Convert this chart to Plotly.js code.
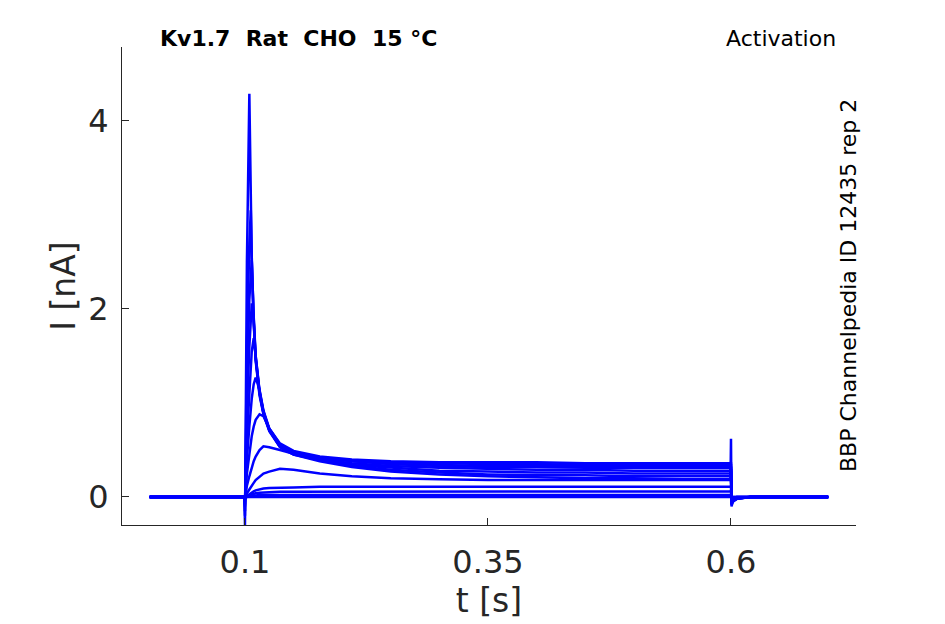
<!DOCTYPE html>
<html>
<head>
<meta charset="utf-8">
<script src="https://cdn.plot.ly/plotly-3.0.1.min.js"></script>
<style>
  body { margin: 0; background: #fff; }
  #chart { width: 945px; height: 624px; }
</style>
</head>
<body>
<div id="chart"></div>
<script>
// sample times (s), shared by every sweep
var time = [0.002, 0.05, 0.0995, 0.1, 0.1005, 0.102, 0.1045, 0.106, 0.107, 0.109, 0.111,
            0.115, 0.119, 0.125, 0.136, 0.15, 0.177, 0.21, 0.25, 0.3, 0.35, 0.4, 0.45,
            0.5, 0.55, 0.5995, 0.6, 0.6005, 0.602, 0.606, 0.62, 0.7];

// current (nA) for each voltage step
var sweep1  = [0, 0, 0, -0.3, 0.5, 2.5, 4.29, 3.1, 2.5, 1.85, 1.45, 1.08, 0.88, 0.7, 0.53, 0.45, 0.38, 0.32, 0.27, 0.24, 0.22, 0.21, 0.2, 0.2, 0.19, 0.19, 0.62, -0.1, -0.05, -0.02, 0, 0];
var sweep2  = [0, 0, 0, -0.2, 0.3, 1.6, 2.7, 3.05, 2.55, 1.87, 1.47, 1.1, 0.89, 0.71, 0.53, 0.45, 0.39, 0.33, 0.29, 0.26, 0.24, 0.23, 0.23, 0.22, 0.22, 0.22, 0.3, -0.08, -0.04, -0.02, 0, 0];
var sweep3  = [0, 0, 0, -0.15, 0.2, 1.2, 2.1, 2.45, 2.52, 1.9, 1.48, 1.11, 0.9, 0.71, 0.54, 0.46, 0.39, 0.34, 0.31, 0.28, 0.27, 0.26, 0.26, 0.25, 0.25, 0.25, 0.28, -0.08, -0.04, -0.02, 0, 0];
var sweep4  = [0, 0, 0, -0.1, 0.15, 0.9, 1.6, 1.95, 2.06, 1.92, 1.5, 1.12, 0.9, 0.72, 0.54, 0.46, 0.4, 0.36, 0.33, 0.31, 0.3, 0.29, 0.29, 0.28, 0.28, 0.28, 0.3, -0.07, -0.04, -0.015, 0, 0];
var sweep5  = [0, 0, 0, -0.08, 0.1, 0.6, 1.1, 1.4, 1.55, 1.69, 1.5, 1.13, 0.91, 0.72, 0.55, 0.47, 0.41, 0.38, 0.35, 0.33, 0.32, 0.32, 0.31, 0.31, 0.31, 0.31, 0.32, -0.07, -0.03, -0.015, 0, 0];
var sweep6  = [0, 0, 0, -0.05, 0.08, 0.4, 0.75, 0.95, 1.05, 1.2, 1.27, 1.14, 0.92, 0.73, 0.56, 0.48, 0.42, 0.39, 0.37, 0.36, 0.35, 0.35, 0.34, 0.34, 0.34, 0.34, 0.35, -0.06, -0.03, -0.01, 0, 0];
var sweep7  = [0, 0, 0, -0.03, 0.05, 0.25, 0.45, 0.58, 0.65, 0.75, 0.82, 0.88, 0.86, 0.73, 0.57, 0.49, 0.43, 0.4, 0.38, 0.37, 0.37, 0.37, 0.36, 0.36, 0.36, 0.36, 0.37, -0.05, -0.03, -0.01, 0, 0];
var sweep8  = [0, 0, 0, -0.02, 0.03, 0.12, 0.22, 0.28, 0.32, 0.38, 0.43, 0.5, 0.54, 0.53, 0.5, 0.46, 0.42, 0.38, 0.35, 0.34, 0.33, 0.33, 0.33, 0.32, 0.32, 0.32, 0.33, -0.05, -0.02, -0.01, 0, 0];
var sweep9  = [0, 0, 0, -0.01, 0.01, 0.04, 0.08, 0.1, 0.12, 0.15, 0.18, 0.22, 0.25, 0.27, 0.3, 0.29, 0.25, 0.22, 0.2, 0.19, 0.18, 0.18, 0.18, 0.18, 0.18, 0.18, 0.19, -0.04, -0.02, -0.01, 0, 0];
var sweep10 = [0, 0, 0, -0.01, 0, 0.01, 0.03, 0.04, 0.05, 0.06, 0.07, 0.08, 0.09, 0.095, 0.1, 0.1, 0.11, 0.11, 0.11, 0.11, 0.11, 0.11, 0.11, 0.11, 0.11, 0.11, 0.12, -0.03, -0.01, 0, 0, 0];
var sweep11 = [0, 0, 0, -0.01, 0, 0.01, 0.02, 0.025, 0.03, 0.035, 0.04, 0.045, 0.05, 0.05, 0.055, 0.055, 0.06, 0.06, 0.06, 0.06, 0.06, 0.06, 0.06, 0.06, 0.06, 0.06, 0.07, -0.02, -0.01, 0, 0, 0];
var sweep12 = [0, 0, 0, -0.01, 0, 0, 0.01, 0.01, 0.01, 0.015, 0.015, 0.02, 0.02, 0.02, 0.02, 0.02, 0.02, 0.02, 0.02, 0.02, 0.02, 0.02, 0.02, 0.02, 0.02, 0.02, 0.03, -0.01, 0, 0, 0, 0];
var sweep13 = [0, 0, 0, -0.01, 0, 0, 0, 0, 0, 0, 0, 0, 0, 0, 0, 0, 0, 0, 0, 0, 0, 0, 0, 0, 0, 0, 0.01, -0.01, 0, 0, 0, 0];

var sweeps = [sweep1, sweep2, sweep3, sweep4, sweep5, sweep6, sweep7, sweep8, sweep9, sweep10, sweep11, sweep12, sweep13];

var tickVals = [0.1, 0.35, 0.6];
var tickText = ['0.1', '0.35', '0.6'];

var axisColor = '#262626';

var data = [];
for (var i = 0; i < sweeps.length; i++) {
  data.push({
    x: time,
    y: sweeps[i],
    type: 'scatter',
    mode: 'lines',
    line: {color: '#0000ff', width: 2.5},
    hoverinfo: 'skip',
    showlegend: false
  });
}

var layout = {
  width: 945,
  height: 624,
  margin: {l: 122, r: 89, t: 47, b: 99},
  paper_bgcolor: '#fff',
  plot_bgcolor: '#fff',
  font: {family: 'DejaVu Sans', color: axisColor},
  xaxis: {
    range: [-0.0265, 0.7286],
    tickvals: tickVals,
    ticktext: tickText,
    ticks: 'inside',
    ticklen: 7,
    tickcolor: axisColor,
    ticklabelstandoff: 9,
    tickfont: {size: 32, color: axisColor},
    showline: true,
    linecolor: axisColor,
    linewidth: 1,
    showgrid: false,
    zeroline: false,
    title: {text: 't [s]', font: {size: 33, color: axisColor}, standoff: 4}
  },
  yaxis: {
    range: [-0.298, 4.787],
    tickvals: [0, 2, 4],
    ticks: 'inside',
    ticklen: 7,
    tickcolor: axisColor,
    ticklabelstandoff: 6,
    tickfont: {size: 32, color: axisColor},
    showline: true,
    linecolor: axisColor,
    linewidth: 1,
    showgrid: false,
    zeroline: false,
    title: {text: 'I [nA]', font: {size: 33, color: axisColor}, standoff: 2}
  },
  annotations: [
    {
      text: '<b>Kv1.7\u00a0\u00a0Rat\u00a0\u00a0CHO\u00a0\u00a015\u00a0°C</b>',
      xref: 'paper', yref: 'paper', x: 0.049, y: 1.017,
      xanchor: 'left', yanchor: 'middle', showarrow: false,
      font: {size: 22, color: '#000'}
    },
    {
      text: 'Activation',
      xref: 'paper', yref: 'paper', x: 0.9755, y: 1.017,
      xanchor: 'right', yanchor: 'middle', showarrow: false,
      font: {size: 22, color: '#000'}
    },
    {
      text: 'BBP Channelpedia ID 12435 rep 2',
      xref: 'paper', yref: 'paper', x: 0.989, y: 0.502,
      xanchor: 'center', yanchor: 'middle', showarrow: false,
      textangle: -90,
      font: {size: 22, color: '#000'}
    }
  ]
};

Plotly.newPlot('chart', data, layout, {staticPlot: true});
</script>
</body>
</html>
